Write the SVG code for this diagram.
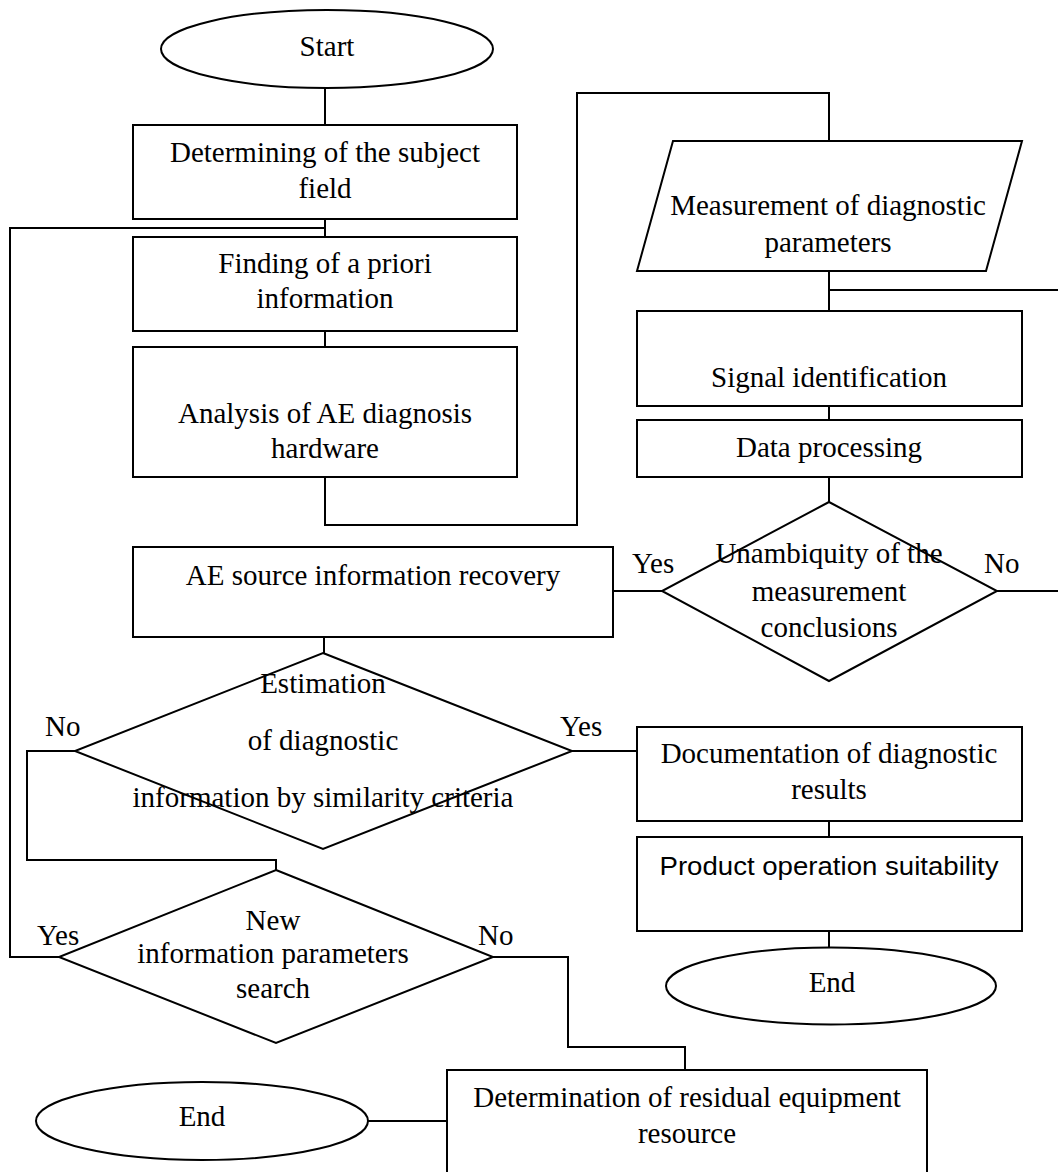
<svg xmlns="http://www.w3.org/2000/svg" width="1058" height="1172" viewBox="0 0 1058 1172">
<style>
.s{fill:#fff;stroke:#000;stroke-width:2}
.c{fill:none;stroke:#000;stroke-width:2}
text{font-family:"Liberation Serif","Times New Roman",serif;font-size:29px;fill:#000}
.m{text-anchor:middle}
.sans{font-family:"Liberation Sans",Arial,sans-serif;font-size:26px}
</style>
<rect width="1058" height="1172" fill="#fff"/>
<g id="connectors">
<path class="c" d="M325,88 V125"/>
<path class="c" d="M325,219 V237"/>
<path class="c" d="M325,331 V347"/>
<path class="c" d="M325,477 V525 H577 V93 H829 V141"/>
<path class="c" d="M829,271 V311"/>
<path class="c" d="M829,290 H1058"/>
<path class="c" d="M829,406 V420"/>
<path class="c" d="M829,477 V502"/>
<path class="c" d="M662,591 H613"/>
<path class="c" d="M997,591 H1058"/>
<path class="c" d="M324,637 V653"/>
<path class="c" d="M572,751 H638"/>
<path class="c" d="M829,821 V837"/>
<path class="c" d="M829,931 V948"/>
<path class="c" d="M75,751 H27 V860 H276 V870"/>
<path class="c" d="M59,957 H10 V228 H325"/>
<path class="c" d="M493,957 H568 V1047 H685 V1070"/>
<path class="c" d="M368,1121 H447"/>
</g>
<g id="start">
<ellipse class="s" cx="327" cy="49" rx="166" ry="39"/>
<text class="m" x="327" y="56">Start</text>
</g>
<g id="subject-field">
<rect class="s" x="133" y="125" width="384" height="94"/>
<text class="m" x="325" y="162">Determining of the subject</text>
<text class="m" x="325" y="198">field</text>
</g>
<g id="a-priori">
<rect class="s" x="133" y="237" width="384" height="94"/>
<text class="m" x="325" y="273">Finding of a priori</text>
<text class="m" x="325" y="308">information</text>
</g>
<g id="analysis">
<rect class="s" x="133" y="347" width="384" height="130"/>
<text class="m" x="325" y="423">Analysis of AE diagnosis</text>
<text class="m" x="325" y="458">hardware</text>
</g>
<g id="measurement">
<polygon class="s" points="673,141 1022,141 986,271 637,271"/>
<text class="m" x="828" y="215">Measurement of diagnostic</text>
<text class="m" x="828" y="252">parameters</text>
</g>
<g id="signal">
<rect class="s" x="637" y="311" width="385" height="95"/>
<text class="m" x="829" y="387">Signal identification</text>
</g>
<g id="data">
<rect class="s" x="637" y="420" width="385" height="57"/>
<text class="m" x="829" y="457">Data processing</text>
</g>
<g id="unambiguity">
<polygon class="s" points="829,502 997,591 829,681 662,591"/>
<text class="m" x="829" y="563">Unambiquity of the</text>
<text class="m" x="829" y="601">measurement</text>
<text class="m" x="829" y="637">conclusions</text>
<text x="632" y="573">Yes</text>
<text x="984" y="573">No</text>
</g>
<g id="ae-source">
<rect class="s" x="133" y="547" width="480" height="90"/>
<text class="m" x="373" y="585">AE source information recovery</text>
</g>
<g id="estimation">
<polygon class="s" points="323,653 572,751 323,849 75,751"/>
<text class="m" x="323" y="693">Estimation</text>
<text class="m" x="323" y="750">of diagnostic</text>
<text class="m" x="323" y="807">information by similarity criteria</text>
<text x="45" y="736">No</text>
<text x="560" y="736">Yes</text>
</g>
<g id="documentation">
<rect class="s" x="637" y="727" width="385" height="94"/>
<text class="m" x="829" y="763">Documentation of diagnostic</text>
<text class="m" x="829" y="799">results</text>
</g>
<g id="suitability">
<rect class="s" x="637" y="837" width="385" height="94"/>
<text class="m sans" x="829" y="875" textLength="339" lengthAdjust="spacingAndGlyphs">Product operation suitability</text>
</g>
<g id="end-right">
<ellipse class="s" cx="831" cy="986" rx="165" ry="38.5"/>
<text class="m" x="832" y="992">End</text>
</g>
<g id="new-info">
<polygon class="s" points="276,870 493,957 276,1043 59,957"/>
<text class="m" x="273" y="930">New</text>
<text class="m" x="273" y="963">information parameters</text>
<text class="m" x="273" y="998">search</text>
<text x="37" y="945">Yes</text>
<text x="478" y="945">No</text>
</g>
<g id="residual">
<rect class="s" x="447" y="1070" width="480" height="115"/>
<text class="m" x="687" y="1107">Determination of residual equipment</text>
<text class="m" x="687" y="1143">resource</text>
</g>
<g id="end-left">
<ellipse class="s" cx="202" cy="1121" rx="166" ry="39"/>
<text class="m" x="202" y="1126">End</text>
</g>
</svg>
